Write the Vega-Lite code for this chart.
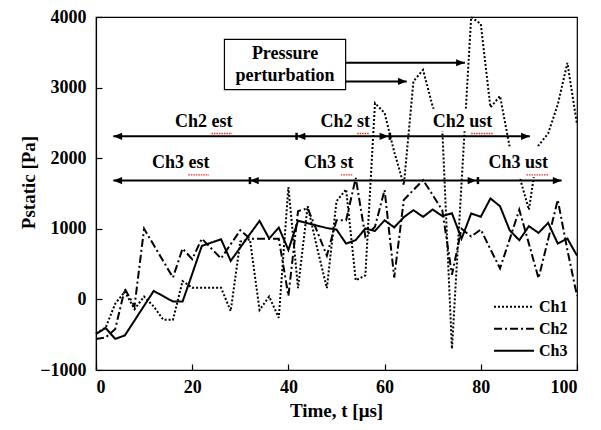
{
  "$schema": "https://vega.github.io/schema/vega-lite/v6.json",
  "width": 481,
  "height": 353,
  "autosize": {"type": "none"},
  "padding": {"left": 96, "top": 17, "right": 24, "bottom": 60},
  "background": "white",
  "config": {
    "view": {"stroke": "black", "strokeWidth": 1.2},
    "font": "Liberation Serif",
    "axis": {
      "grid": false,
      "domainColor": "black",
      "domainWidth": 1.2,
      "tickColor": "black",
      "tickWidth": 1.2,
      "tickSize": -6,
      "labelColor": "black",
      "titleColor": "black",
      "labelFont": "Liberation Serif",
      "labelFontWeight": "bold",
      "labelFontSize": 18,
      "titleFont": "Liberation Serif",
      "titleFontWeight": "bold",
      "titleFontSize": 19
    }
  },
  "datasets": {
    "series": [
      {"t": 0, "v": -480, "ch": "Ch1"}, {"t": 2, "v": -400, "ch": "Ch1"}, {"t": 4, "v": -60, "ch": "Ch1"}, {"t": 6, "v": 110, "ch": "Ch1"}, {"t": 8, "v": -140, "ch": "Ch1"}, {"t": 10, "v": 40, "ch": "Ch1"}, {"t": 12, "v": -100, "ch": "Ch1"}, {"t": 14, "v": -290, "ch": "Ch1"}, {"t": 16, "v": -290, "ch": "Ch1"}, {"t": 18, "v": 260, "ch": "Ch1"}, {"t": 20, "v": 165, "ch": "Ch1"}, {"t": 22, "v": 165, "ch": "Ch1"}, {"t": 24, "v": 165, "ch": "Ch1"}, {"t": 26, "v": 165, "ch": "Ch1"}, {"t": 28, "v": -165, "ch": "Ch1"}, {"t": 30, "v": 820, "ch": "Ch1"}, {"t": 32, "v": 850, "ch": "Ch1"}, {"t": 34, "v": -150, "ch": "Ch1"}, {"t": 36, "v": 40, "ch": "Ch1"}, {"t": 38, "v": -260, "ch": "Ch1"}, {"t": 40, "v": 1590, "ch": "Ch1"}, {"t": 42, "v": 160, "ch": "Ch1"}, {"t": 44, "v": 1320, "ch": "Ch1"}, {"t": 46, "v": 720, "ch": "Ch1"}, {"t": 48, "v": 160, "ch": "Ch1"}, {"t": 50, "v": 1390, "ch": "Ch1"}, {"t": 52, "v": 1560, "ch": "Ch1"}, {"t": 54, "v": 270, "ch": "Ch1"}, {"t": 56, "v": 340, "ch": "Ch1"}, {"t": 58, "v": 2780, "ch": "Ch1"}, {"t": 60, "v": 2640, "ch": "Ch1"}, {"t": 62, "v": 2090, "ch": "Ch1"}, {"t": 64, "v": 1620, "ch": "Ch1"}, {"t": 66, "v": 3090, "ch": "Ch1"}, {"t": 68, "v": 3250, "ch": "Ch1"}, {"t": 70, "v": 2730, "ch": "Ch1"}, {"t": 72, "v": 2400, "ch": "Ch1"}, {"t": 74, "v": -700, "ch": "Ch1"}, {"t": 76, "v": 1650, "ch": "Ch1"}, {"t": 78, "v": 4000, "ch": "Ch1"}, {"t": 80, "v": 3900, "ch": "Ch1"}, {"t": 82, "v": 2720, "ch": "Ch1"}, {"t": 84, "v": 2880, "ch": "Ch1"}, {"t": 86, "v": 2160, "ch": "Ch1"}, {"t": 88, "v": 1750, "ch": "Ch1"}, {"t": 90, "v": 1270, "ch": "Ch1"}, {"t": 92, "v": 2180, "ch": "Ch1"}, {"t": 94, "v": 2350, "ch": "Ch1"}, {"t": 96, "v": 2760, "ch": "Ch1"}, {"t": 98, "v": 3350, "ch": "Ch1"}, {"t": 100, "v": 2480, "ch": "Ch1"},
      {"t": 0, "v": -560, "ch": "Ch2"}, {"t": 2, "v": -540, "ch": "Ch2"}, {"t": 4, "v": -420, "ch": "Ch2"}, {"t": 6, "v": 150, "ch": "Ch2"}, {"t": 8, "v": -100, "ch": "Ch2"}, {"t": 10, "v": 1000, "ch": "Ch2"}, {"t": 12, "v": 770, "ch": "Ch2"}, {"t": 14, "v": 540, "ch": "Ch2"}, {"t": 16, "v": 310, "ch": "Ch2"}, {"t": 18, "v": 720, "ch": "Ch2"}, {"t": 20, "v": 570, "ch": "Ch2"}, {"t": 22, "v": 860, "ch": "Ch2"}, {"t": 24, "v": 720, "ch": "Ch2"}, {"t": 26, "v": 580, "ch": "Ch2"}, {"t": 28, "v": 780, "ch": "Ch2"}, {"t": 30, "v": 980, "ch": "Ch2"}, {"t": 32, "v": 860, "ch": "Ch2"}, {"t": 34, "v": 860, "ch": "Ch2"}, {"t": 36, "v": 860, "ch": "Ch2"}, {"t": 38, "v": 860, "ch": "Ch2"}, {"t": 40, "v": 50, "ch": "Ch2"}, {"t": 42, "v": 1250, "ch": "Ch2"}, {"t": 44, "v": 1290, "ch": "Ch2"}, {"t": 46, "v": 960, "ch": "Ch2"}, {"t": 48, "v": 620, "ch": "Ch2"}, {"t": 50, "v": 1120, "ch": "Ch2"}, {"t": 52, "v": 1120, "ch": "Ch2"}, {"t": 54, "v": 1720, "ch": "Ch2"}, {"t": 56, "v": 890, "ch": "Ch2"}, {"t": 58, "v": 1030, "ch": "Ch2"}, {"t": 60, "v": 1550, "ch": "Ch2"}, {"t": 62, "v": 310, "ch": "Ch2"}, {"t": 64, "v": 1410, "ch": "Ch2"}, {"t": 66, "v": 1550, "ch": "Ch2"}, {"t": 68, "v": 1690, "ch": "Ch2"}, {"t": 70, "v": 1480, "ch": "Ch2"}, {"t": 72, "v": 1260, "ch": "Ch2"}, {"t": 74, "v": 350, "ch": "Ch2"}, {"t": 76, "v": 1000, "ch": "Ch2"}, {"t": 78, "v": 890, "ch": "Ch2"}, {"t": 80, "v": 990, "ch": "Ch2"}, {"t": 82, "v": 710, "ch": "Ch2"}, {"t": 84, "v": 440, "ch": "Ch2"}, {"t": 86, "v": 850, "ch": "Ch2"}, {"t": 88, "v": 1270, "ch": "Ch2"}, {"t": 90, "v": 790, "ch": "Ch2"}, {"t": 92, "v": 300, "ch": "Ch2"}, {"t": 94, "v": 850, "ch": "Ch2"}, {"t": 96, "v": 1410, "ch": "Ch2"}, {"t": 98, "v": 700, "ch": "Ch2"}, {"t": 100, "v": 50, "ch": "Ch2"},
      {"t": 0, "v": -490, "ch": "Ch3"}, {"t": 2, "v": -405, "ch": "Ch3"}, {"t": 4, "v": -560, "ch": "Ch3"}, {"t": 6, "v": -510, "ch": "Ch3"}, {"t": 8, "v": -300, "ch": "Ch3"}, {"t": 10, "v": -90, "ch": "Ch3"}, {"t": 12, "v": 120, "ch": "Ch3"}, {"t": 14, "v": 45, "ch": "Ch3"}, {"t": 16, "v": -30, "ch": "Ch3"}, {"t": 18, "v": -30, "ch": "Ch3"}, {"t": 20, "v": 360, "ch": "Ch3"}, {"t": 22, "v": 757, "ch": "Ch3"}, {"t": 24, "v": 805, "ch": "Ch3"}, {"t": 26, "v": 852, "ch": "Ch3"}, {"t": 28, "v": 545, "ch": "Ch3"}, {"t": 30, "v": 735, "ch": "Ch3"}, {"t": 32, "v": 925, "ch": "Ch3"}, {"t": 34, "v": 1112, "ch": "Ch3"}, {"t": 36, "v": 862, "ch": "Ch3"}, {"t": 38, "v": 1018, "ch": "Ch3"}, {"t": 40, "v": 700, "ch": "Ch3"}, {"t": 42, "v": 1115, "ch": "Ch3"}, {"t": 44, "v": 1080, "ch": "Ch3"}, {"t": 46, "v": 1045, "ch": "Ch3"}, {"t": 48, "v": 1010, "ch": "Ch3"}, {"t": 50, "v": 990, "ch": "Ch3"}, {"t": 52, "v": 790, "ch": "Ch3"}, {"t": 54, "v": 840, "ch": "Ch3"}, {"t": 56, "v": 1005, "ch": "Ch3"}, {"t": 58, "v": 970, "ch": "Ch3"}, {"t": 60, "v": 1120, "ch": "Ch3"}, {"t": 62, "v": 1020, "ch": "Ch3"}, {"t": 64, "v": 1165, "ch": "Ch3"}, {"t": 66, "v": 1264, "ch": "Ch3"}, {"t": 68, "v": 1169, "ch": "Ch3"}, {"t": 70, "v": 1274, "ch": "Ch3"}, {"t": 72, "v": 1180, "ch": "Ch3"}, {"t": 74, "v": 1220, "ch": "Ch3"}, {"t": 76, "v": 860, "ch": "Ch3"}, {"t": 78, "v": 1217, "ch": "Ch3"}, {"t": 80, "v": 1170, "ch": "Ch3"}, {"t": 82, "v": 1430, "ch": "Ch3"}, {"t": 84, "v": 1320, "ch": "Ch3"}, {"t": 86, "v": 980, "ch": "Ch3"}, {"t": 88, "v": 838, "ch": "Ch3"}, {"t": 90, "v": 1037, "ch": "Ch3"}, {"t": 92, "v": 942, "ch": "Ch3"}, {"t": 94, "v": 1084, "ch": "Ch3"}, {"t": 96, "v": 791, "ch": "Ch3"}, {"t": 98, "v": 862, "ch": "Ch3"}, {"t": 100, "v": 620, "ch": "Ch3"}
    ],
    "labels": [
      {"text": "Ch2 est", "t": 22.4, "v": 2510, "x1": 16.2, "x2": 28.6, "y1": 2380, "y2": 2700},
      {"text": "Ch2 st", "t": 51.8, "v": 2510, "x1": 46.8, "x2": 56.8, "y1": 2380, "y2": 2700},
      {"text": "Ch2 ust", "t": 76.2, "v": 2510, "x1": 70, "x2": 82.5, "y1": 2380, "y2": 2700},
      {"text": "Ch3 est", "t": 17.6, "v": 1925, "x1": 11.4, "x2": 23.8, "y1": 1730, "y2": 2165},
      {"text": "Ch3 st", "t": 48.4, "v": 1925, "x1": 43.4, "x2": 53.4, "y1": 1730, "y2": 2165},
      {"text": "Ch3 ust", "t": 87.8, "v": 1925, "x1": 81.5, "x2": 94.4, "y1": 1730, "y2": 2165}
    ],
    "squiggles": [
      {"x1": 24.0, "x2": 28.3, "y": 2350},
      {"x1": 54.3, "x2": 56.9, "y": 2350},
      {"x1": 78.0, "x2": 82.5, "y": 2350},
      {"x1": 19.2, "x2": 23.5, "y": 1765},
      {"x1": 50.9, "x2": 53.5, "y": 1765},
      {"x1": 89.5, "x2": 94.2, "y": 1765}
    ],
    "box": [{"x1": 26.7, "x2": 51.9, "y1": 2970, "y2": 3682}],
    "boxtext": [
      {"text": "Pressure", "t": 39.3, "v": 3470},
      {"text": "perturbation", "t": 39.3, "v": 3158}
    ],
    "segs": [
      {"x1": 3.6, "x2": 90.2, "y": 2310},
      {"x1": 3.6, "x2": 96.8, "y": 1683},
      {"x1": 51.9, "x2": 76.7, "y": 3352},
      {"x1": 51.9, "x2": 64.6, "y": 3088}
    ],
    "heads": [
      {"t": 3.6, "v": 2310, "dir": "left"},
      {"t": 41.7, "v": 2310, "dir": "left"},
      {"t": 60.8, "v": 2310, "dir": "right"},
      {"t": 90.2, "v": 2310, "dir": "right"},
      {"t": 3.6, "v": 1683, "dir": "left"},
      {"t": 32.0, "v": 1683, "dir": "left"},
      {"t": 79.1, "v": 1683, "dir": "right"},
      {"t": 96.8, "v": 1683, "dir": "right"},
      {"t": 76.7, "v": 3352, "dir": "right"},
      {"t": 64.6, "v": 3088, "dir": "right"}
    ],
    "bars": [
      {"t": 41.7, "v": 2310},
      {"t": 61.1, "v": 2310},
      {"t": 32.0, "v": 1683},
      {"t": 79.4, "v": 1683}
    ]
  },
  "layer": [
    {
      "data": {"name": "series"},
      "mark": {"type": "line", "color": "black", "strokeWidth": 2},
      "encoding": {
        "x": {"field": "t", "type": "quantitative", "scale": {"domain": [0, 100], "nice": false},
          "axis": {"values": [0, 20, 40, 60, 80, 100], "title": "Time, t [μs]", "labelPadding": 14, "titleX": 240, "titleY": 40, "titleBaseline": "middle"}},
        "y": {"field": "v", "type": "quantitative", "scale": {"domain": [-1000, 4000], "nice": false},
          "axis": {"values": [-1000, 0, 1000, 2000, 3000, 4000], "format": "d", "title": "Pstatic [Pa]", "labelPadding": 16, "titleX": -68, "titleY": 165, "titleBaseline": "middle", "titleAlign": "center", "titleAngle": 270}},
        "strokeDash": {"field": "ch", "type": "nominal",
          "scale": {"domain": ["Ch1", "Ch2", "Ch3"], "range": [[2, 2], [8, 3, 2, 3], [1, 0]]},
          "legend": {"orient": "none", "legendX": 397, "legendY": 279, "title": null, "symbolType": "stroke", "symbolSize": 1600, "symbolStrokeWidth": 2, "symbolStrokeColor": "black", "labelFont": "Liberation Serif", "labelFontWeight": "bold", "labelFontSize": 16, "labelColor": "black", "labelOffset": 4, "rowPadding": 0, "clipHeight": 21.5}},
        "order": {"field": "t", "type": "quantitative"}
      }
    },
    {
      "data": {"name": "labels"},
      "mark": {"type": "rect", "fill": "white"},
      "encoding": {
        "x": {"field": "x1", "type": "quantitative"},
        "x2": {"field": "x2"},
        "y": {"field": "y1", "type": "quantitative"},
        "y2": {"field": "y2"}
      }
    },
    {
      "data": {"name": "box"},
      "mark": {"type": "rect", "fill": "white", "stroke": "black", "strokeWidth": 1.2},
      "encoding": {
        "x": {"field": "x1", "type": "quantitative"},
        "x2": {"field": "x2"},
        "y": {"field": "y1", "type": "quantitative"},
        "y2": {"field": "y2"}
      }
    },
    {
      "data": {"name": "squiggles"},
      "mark": {"type": "rule", "color": "#e0302a", "strokeWidth": 1.3, "strokeDash": [1.5, 1]},
      "encoding": {
        "x": {"field": "x1", "type": "quantitative"},
        "x2": {"field": "x2"},
        "y": {"field": "y", "type": "quantitative"}
      }
    },
    {
      "data": {"name": "segs"},
      "mark": {"type": "rule", "color": "black", "strokeWidth": 2},
      "encoding": {
        "x": {"field": "x1", "type": "quantitative"},
        "x2": {"field": "x2"},
        "y": {"field": "y", "type": "quantitative"}
      }
    },
    {
      "data": {"name": "heads"},
      "mark": {"type": "point", "filled": true, "color": "black", "opacity": 1, "size": 256},
      "encoding": {
        "x": {"field": "t", "type": "quantitative"},
        "y": {"field": "v", "type": "quantitative"},
        "shape": {"field": "dir", "type": "nominal", "legend": null,
          "scale": {"domain": ["left", "right"], "range": ["M0,0L1.1,-0.45L1.1,0.45Z", "M0,0L-1.1,-0.45L-1.1,0.45Z"]}}
      }
    },
    {
      "data": {"name": "bars"},
      "mark": {"type": "point", "shape": "M0,-0.5L0,0.5", "filled": false, "color": "black", "strokeWidth": 2.5, "opacity": 1, "size": 200},
      "encoding": {
        "x": {"field": "t", "type": "quantitative"},
        "y": {"field": "v", "type": "quantitative"}
      }
    },
    {
      "data": {"name": "labels"},
      "mark": {"type": "text", "font": "Liberation Serif", "fontWeight": "bold", "fontSize": 18, "color": "black", "align": "center", "baseline": "middle"},
      "encoding": {
        "x": {"field": "t", "type": "quantitative"},
        "y": {"field": "v", "type": "quantitative"},
        "text": {"field": "text"}
      }
    },
    {
      "data": {"name": "boxtext"},
      "mark": {"type": "text", "font": "Liberation Serif", "fontWeight": "bold", "fontSize": 18, "color": "black", "align": "center", "baseline": "middle"},
      "encoding": {
        "x": {"field": "t", "type": "quantitative"},
        "y": {"field": "v", "type": "quantitative"},
        "text": {"field": "text"}
      }
    }
  ]
}
